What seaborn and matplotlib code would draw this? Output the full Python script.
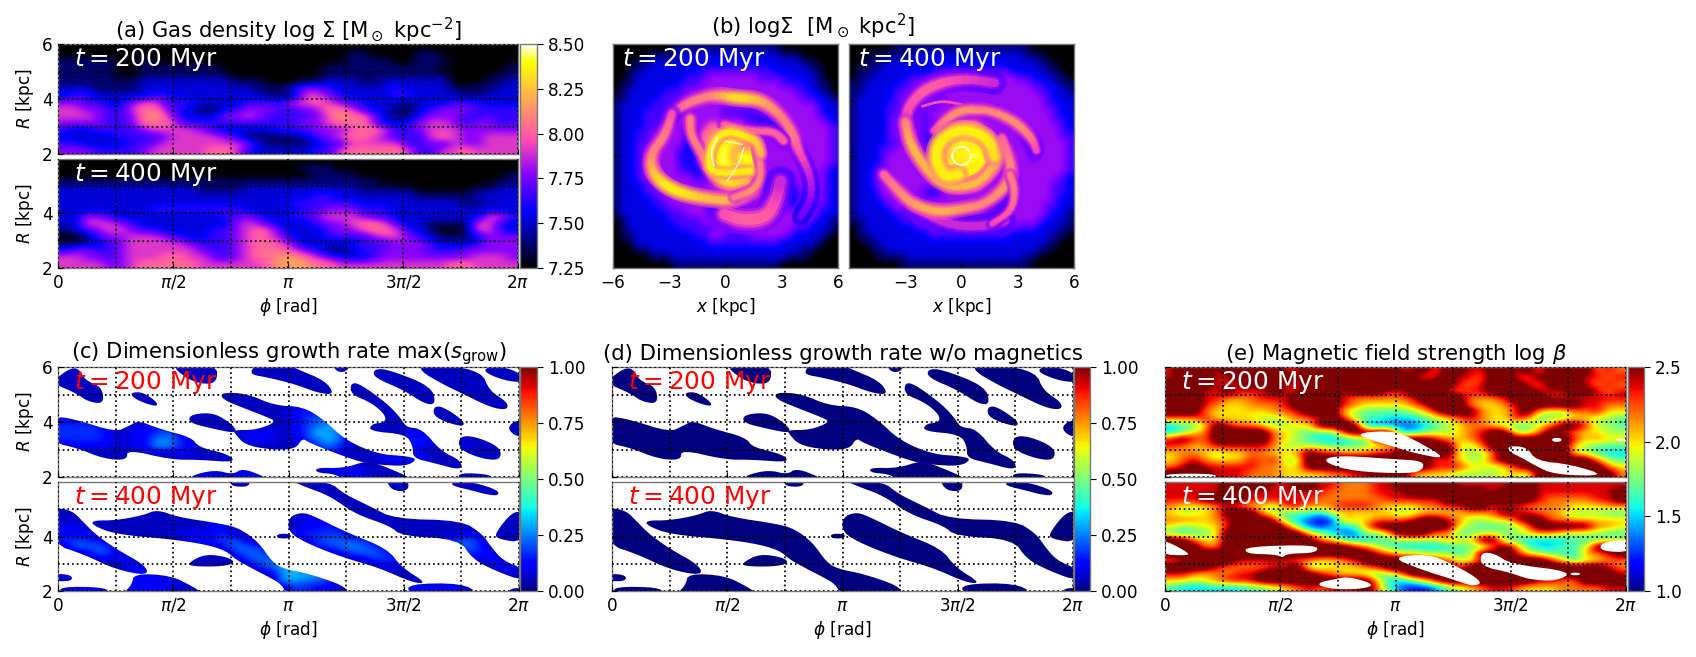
import numpy as np
import matplotlib
matplotlib.use("Agg")
import matplotlib.pyplot as plt
from matplotlib.cm import ScalarMappable
from matplotlib.collections import LineCollection
from matplotlib.colors import Normalize
from matplotlib.patches import Polygon
import seaborn as sns

# Digit grids: rows run from the top of a panel to its bottom.
gas_200 = [
 "0000000000000000000000000000000000000000",
 "0000000000000000000000000110000110000000",
 "1111100100000000000000000111100111000000",
 "1111100111111100000000011111111110000001",
 "1111100111111110000000011111111111000011",
 "1111111222222221110001122211222222000112",
 "2221111222222222211134432222232222111122",
 "2332222233222222221115543222233222211222",
 "4433224553332222333355654332221222333222",
 "5544335664321123444334466532211234443333",
 "5554334675322244543333457664211344433333",
 "4444334666433333333334456664223455434433",
 "3223333455554322222333444566533455544444",
 "2222233334555543111112345665433356544555",
 "3322223345555555421111233555553343544555",
 "4443333455555665322222335666665335565555",
]
gas_400 = [
 "0000000000000000000000000000000000000000",
 "0000000000000000000001110000000000000000",
 "0000000000000000000000111100000000000001",
 "1111111111111111111111111111000000000011",
 "2222222222221111222222222211111000001122",
 "2222222222222222222222332222222111112222",
 "2222222222222222222233333322222222211222",
 "2222222233333333222223344433322222222222",
 "2244322222222233432233455543322222222553",
 "2255543222222224543222344566532211115532",
 "1234554332222334565322234456653210015532",
 "0013445554322334565422233334554321112444",
 "1122345555543334566542222233344432223444",
 "3443345555554334566654311233444433344444",
 "5544345556655434566776543223444444445554",
 "5555445666665555556777665555555555665555",
]
disk_200 = [
 "0000000011111111111111100000000",
 "0000011112222222222222211100000",
 "0001122222222222222222222211000",
 "0011222222223333333333222221100",
 "0012222222333444444433332222100",
 "0112222223334444444444433322110",
 "0122222333444555666655544332210",
 "1122223334455667888766555433221",
 "1222233344566676655677665544322",
 "1222333344656653333345666554322",
 "1222333445456654443323456654432",
 "1222334456345664666543234666443",
 "1223344566236667888755324566543",
 "1223345665236678885887533566543",
 "1223456653236789766888754566543",
 "1223467652326789699887665665443",
 "1223467643236889778898765555443",
 "1223478743323688888987654455432",
 "1223467875433468889876543455432",
 "1222346788764457888765443455432",
 "1222334678887776787765432355432",
 "1222233456778887777665432345432",
 "1222223344454322566666543344332",
 "1222222333444333345666665444322",
 "0122222233334443345666765443221",
 "0122222223333344455667654332221",
 "0112222222233443333454443222210",
 "0012222222222333333333322222100",
 "0001122222222222222222222211000",
 "0000011122222222222222221110000",
 "0000000011111111111111100000000",
]
disk_400 = [
 "0000001111111111111111111000000",
 "0001111112222222222222221110000",
 "0011122222222222222222222211000",
 "0111222222223333333333222221100",
 "0112222233344444455544433222110",
 "1122222334455566666555444332211",
 "1122223345566544444455554433221",
 "1222223456543455554444445543222",
 "1222233465434455666666654443322",
 "1222233565344566777777666544322",
 "1222234564344566777776667654332",
 "1222234564343567888776546765432",
 "1222234565334678888876443675433",
 "1222233665335788888887653265443",
 "1222334775436788888887764254443",
 "1222344677536788898888764344443",
 "1222344678656888888887765445443",
 "1223455677778888888877654655443",
 "1223566567777788888776545765432",
 "1223566654566777777654345754332",
 "1222456665323566665543345654332",
 "1222345677654456666543346654322",
 "1222234567777766554333456643322",
 "1222223345666776554445566543221",
 "1122222334445555555555554432221",
 "0122222223344445555554433322211",
 "0112222222233333333333222222110",
 "0011222222222222222222222221100",
 "0001122222222222222222222211000",
 "0000111122222222222222221100000",
 "0000000111111111111111111000000",
]
# Spiral arms in panel (b): x, y [kpc], level, width [kpc]
arms_200 = [
 ([-0.09,0.98,2.22,2.75,2.93], [-3.11,-3.46,-3.29,-2.22,-1.33], [5,5.5,5.5,5,4.5], 0.7),
 ([-2.84,-1.87,-0.62,0.62,1.87,2.93,3.64,3.82,4.53,4.62,4.0], [2.31,2.93,3.29,3.11,3.02,2.22,1.15,0.44,-0.98,-2.22,-3.29], [5,6,6,8,7,6,6,5.5,4.5,4,3.5], 0.42),
 ([-2.84,-3.2,-4.0,-3.91,-3.2,-2.22,-0.8,0.44,1.51], [2.31,1.15,0.09,-0.89,-1.6,-2.04,-2.31,-2.4,-1.86], [5,6,6,7,8,8,7,7,6], 0.42),
 ([-1.87,-1.87,-1.24,-0.8,0.09,1.15], [2.04,1.15,0.09,-0.98,-1.51,-1.33], [6,6,6,6,8,7], 0.36),
 ([-0.09,1.33,2.58,3.11], [1.69,1.33,1.33,0.8], [5.5,5.5,5.5,5.5], 0.36),
 ([0.44,1.51,1.95,1.69], [-2.22,-1.86,-0.98,0.44], [6,6.5,6,6], 0.32),
 ([1.33,-0.8,-0.89,-0.44,0.27,0.98,1.69,1.87], [-0.8,-0.98,0.09,1.07,1.33,1.07,0.8,0.09], [8,8,8,8,8,8,7.5,7], 0.34),
 ([-0.44,-0.8,-0.62], [0.98,0.27,-0.53], [9,9,9], 0.1),
 ([0.98,0.71,0.09], [0.44,-0.44,-1.33], [9,9,9], 0.08),
 ([0.0,0.89], [0.8,0.62], [9,9], 0.07),
]
arms_400 = [
 ([-2.65,-0.87,0.91,2.33], [-2.58,-3.64,-3.82,-3.46], [5,4.5,4.5,4.5], 0.55),
 ([-3.0,-2.82,-1.76,0.02,1.79], [1.69,2.75,3.73,4.17,3.91], [5,5,5.5,5,4.5], 0.55),
 ([-2.11,-1.05,0.02], [2.66,2.97,2.75], [5,5.5,5], 0.18),
 ([-1.49,-0.87,0.02,1.44,2.86,3.75,4.01], [1.33,1.95,2.49,2.49,1.86,0.98,0.27], [5,6,6.5,6,6.5,6,5], 0.36),
 ([-4.16,-3.53,-2.65,-1.23,0.02,1.26,2.33,2.68,2.5,2.15], [-0.98,-1.69,-2.58,-3.02,-2.84,-2.58,-1.69,-0.98,0.09,0.98], [5.5,6,6.5,7,6.5,6,6.5,6.5,6,5.5], 0.4),
 ([2.59,2.86,2.68,1.62], [-0.98,-1.86,-2.93,-3.64], [6,6,5.5,5], 0.32),
 ([-3.0,-2.74,-1.94,-1.05,0.02,1.08,1.79], [1.86,0.62,-0.62,-1.51,-1.69,-1.33,-0.44], [6,7,7,7,7,7,7], 0.4),
 ([1.79,1.44,0.0,-1.23,-1.4,-0.87,-0.16], [-0.09,0.98,1.51,0.8,-0.27,-1.15,-0.98], [7.5,8,8,8,8,8,8], 0.5),
 ([-0.53,-0.37,0,0.37,0.53,0.37,0,-0.37,-0.53], [0,0.37,0.53,0.37,0,-0.37,-0.53,-0.37,0], [9,9,9,9,9,9,9,9,9], 0.1),
]

# Growth-rate colour grids, '1' = the navy floor
growth_200 = [
 "1111111111111111111111111111111111111111",
 "1111111111111111111111111111111111111111",
 "1111111111111111111111111111111111111111",
 "1111111111111111111111111111111111111111",
 "1111111111111111111111111111111111111111",
 "1111111111111111111111111111111111111111",
 "1111111111111111111123211111111111111111",
 "2221111111111111111123443211111111111111",
 "3333111222111111111123456211111111111111",
 "3333212234211111222123654111112211111111",
 "3333212245321111222113464111112321111111",
 "1222212255321111111112343111123212221111",
 "1111111111221111111111232111222211111111",
 "1111111111111111111111112111222211111111",
 "1111111111111111111111122211111111111111",
 "1111111111112212221111112221111111111111",
]
growth_400 = [
 "1111111111111111111111111111111111111111",
 "1111111111111111111111111111111111111111",
 "1111111111111111111111111111111111111111",
 "1111111111111111111111111111111111111111",
 "1111111111111111111111111111111111111111",
 "1111111111111111111112221111111111111111",
 "2211111111111221111112232221111111111111",
 "2221111111222231111123333221111111121111",
 "3332111111122334111122344332111112343111",
 "1444311111111134431111334543211112443111",
 "1114321111111113443111112344321111133211",
 "1111122111111111344511111113332111111221",
 "1111112211111111134561111111211111111122",
 "2111112221111111111566543111111111111111",
 "1111112222211111111554432111111111111111",
 "1222112222111111111133221111112222211111",
]
# Outlines of the unstable regions: (phi / pi, R [kpc])
bands_200 = [
 [(-.02,5.5),(.05,5.95),(.09,5.95),(.12,5.5),(.19,5.28),(.2,4.66),(.13,4.74),(.08,5.04),(-.02,5.4)],
 [(.49,6.1),(.69,6.1),(.69,5.42),(.62,5.38),(.55,5.62)],
 [(.84,5.9),(.86,6.1),(1.0,6.1),(1.03,5.95),(1.16,5.5),(1.2,5.0),(1.13,5.05),(1.03,5.37),(.91,5.62),(.84,5.72)],
 [(1.19,6.1),(1.27,6.1),(1.25,5.82),(1.21,5.82)],
 [(1.37,5.92),(1.43,5.92),(1.62,5.3),(1.64,4.64),(1.59,4.66),(1.5,5.16),(1.37,5.62)],
 [(1.58,6.1),(1.67,6.1),(1.84,5.82),(1.87,5.15),(1.95,4.72),(1.95,4.44),(1.88,4.52),(1.76,5.01),(1.67,5.37),(1.57,5.86)],
 [(1.86,6.0),(1.94,6.0),(2.02,5.7),(2.02,5.44),(1.94,5.5),(1.85,5.8)],
 [(.32,5.08),(.37,5.08),(.43,4.72),(.43,4.56),(.37,4.7),(.32,4.92)],
 [(.71,5.08),(.82,5.03),(.94,4.6),(1.06,4.56),(1.15,4.11),(1.25,3.32),(1.39,2.83),(1.51,2.76),(1.56,2.65),(1.51,2.39),(1.39,2.45),(1.33,2.51),(1.24,2.75),(1.09,3.24),(1.06,3.42),(1.03,3.0),(.91,3.0),(.81,3.18),(.77,3.55),(.76,3.71),(.86,3.71),(.95,4.01),(.9,4.2),(.82,4.46),(.71,4.83)],
 [(.57,4.24),(.64,4.34),(.7,4.24),(.77,3.8),(.77,3.59),(.67,3.76),(.57,3.97)],
 [(-.02,4.21),(.07,4.11),(.25,3.63),(.31,3.87),(.35,4.05),(.44,3.75),(.58,3.44),(.61,3.08),(.74,2.83),(.77,2.53),(.61,2.63),(.49,2.63),(.3,3.0),(.3,2.61),(.2,2.66),(.08,3.06),(-.02,3.24)],
 [(1.27,5.42),(1.31,5.39),(1.43,4.66),(1.49,4.11),(1.51,3.81),(1.58,3.75),(1.66,2.95),(1.75,2.59),(1.75,2.24),(1.63,2.51),(1.54,2.69),(1.54,3.12),(1.51,3.55),(1.35,3.67),(1.36,3.93),(1.42,3.99),(1.42,4.26),(1.36,4.7),(1.27,5.01)],
 [(1.63,4.56),(1.67,4.56),(1.76,4.05),(1.76,3.83),(1.69,3.97),(1.63,4.22)],
 [(1.95,3.78),(1.98,4.04),(2.02,4.04),(2.02,3.46),(1.98,3.51)],
 [(1.74,3.48),(1.81,3.48),(1.92,3.08),(1.92,2.61),(1.84,2.66),(1.74,3.0)],
 [(.58,2.06),(.68,2.26),(.76,2.09),(.8,2.32),(.9,2.0),(.9,1.9),(.58,1.9)],
 [(1.12,2.34),(1.24,2.32),(1.34,2.59),(1.39,2.47),(1.52,2.02),(1.52,1.9),(1.24,1.9),(1.2,2.11),(1.12,2.16)],
 [(1.74,2.16),(1.88,2.09),(1.88,1.9),(1.74,1.9)],
]
bands_400 = [
 [(.75,6.1),(.83,6.1),(.83,5.82),(.75,5.84)],
 [(1.0,6.1),(1.18,6.0),(1.24,5.57),(1.36,5.08),(1.46,4.65),(1.75,4.59),(1.84,4.1),(1.88,3.61),(1.93,3.12),(2.02,2.81),(2.02,2.36),(1.9,2.73),(1.8,3.16),(1.74,3.9),(1.49,4.02),(1.44,4.39),(1.29,4.82),(1.18,5.49),(1.06,5.86)],
 [(1.42,6.1),(1.52,6.1),(1.52,5.66),(1.45,5.68)],
 [(1.71,6.0),(1.8,6.0),(1.91,5.7),(1.91,5.49),(1.85,5.56),(1.8,5.68),(1.71,5.86)],
 [(-.02,5.06),(.06,4.96),(.11,4.53),(.16,4.1),(.25,3.55),(.38,2.94),(.39,2.56),(.25,2.79),(.11,3.35),(-.02,3.71)],
 [(.33,2.64),(.49,2.57),(.59,2.14),(.63,1.9),(.28,1.9),(.32,2.22)],
 [(.15,4.59),(.25,4.59),(.37,4.78),(.43,4.99),(.52,4.71),(.71,4.47),(.79,4.29),(.87,3.79),(.93,3.06),(.98,2.81),(1.09,2.63),(1.24,2.2),(1.26,1.9),(.99,1.9),(.97,2.24),(.92,2.49),(.85,2.79),(.77,3.16),(.73,3.47),(.64,3.71),(.49,3.9),(.25,4.08),(.15,4.41)],
 [(.57,3.06),(.64,3.36),(.74,3.24),(.77,3.02),(.7,2.89),(.57,2.91)],
 [(1.0,4.71),(1.06,4.9),(1.12,4.71),(1.25,4.16),(1.43,3.55),(1.49,2.87),(1.6,2.29),(1.54,2.3),(1.39,2.86),(1.24,3.22),(1.09,3.71),(1.0,4.14)],
 [(.95,4.1),(1.01,4.1),(1.01,3.93),(.95,3.93)],
 [(1.9,4.16),(1.97,4.9),(2.02,4.9),(2.02,3.76),(1.9,3.92)],
 [(-.02,2.64),(.06,2.59),(.06,2.36),(-.02,2.36)],
 [(.01,2.16),(.2,2.14),(.23,1.9),(.01,1.9)],
 [(1.52,2.26),(1.75,2.29),(1.83,1.9),(1.52,1.9)],
 [(1.96,2.09),(2.02,2.12),(2.02,1.9),(1.96,1.9)],
]
beta_200 = [
 "8999899989889998989988979988998979899787",
 "8999889989989998989999789887998798998878",
 "9999888989889999989998999878999879998787",
 "9998898889889998999889998788999988899878",
 "9998877788899998777778999977789998888888",
 "9998766777899998766667899976678999998877",
 "9997666667789996544445689997668965577866",
 "7778666655677898544333456787668745566554",
 "3446987765566999922222345677654467998554",
 "3467999997654448999933455678995579876655",
 "8987999997654333449999987678999999986766",
 "8767888887555544455679999657999999965444",
 "6776566776679887778899999655799999965433",
 "6787666878559999999999978655899999999754",
 "7898888877669999999999988866568999999976",
 "9999888777666677889997666555566599999997",
]
beta_400 = [
 "8888899998899887778899999888889988888888",
 "8888899888888877778889999999899988888889",
 "8889999888888777777888889998999987777889",
 "7666787665887778887666778899888777766677",
 "6556799965444366666655666677798877655544",
 "7776789998432117667778998755668997766666",
 "6556689999842133479999999654445799999776",
 "4344699999996532254799977445555677655544",
 "9976699999999764334455557669944333344455",
 "9997799999999999875433333444797433445999",
 "9999999999999999998766555459998654437789",
 "7899998888877667899999987658999998645677",
 "9999877778895566678999999799899999999987",
 "8876778899999876654579999999999999999998",
 "6656788899999999996334689999999988779999",
 "4333333445678788897421124567887666777788",
]
# Regions where log beta is off the scale (white): (phi / pi, R [kpc])
holes_200 = [
 [(.85,3.62),(.99,3.68),(1.08,3.37),(1.23,2.63),(1.08,2.87),(.99,3.11),(.85,3.45)],
 [(.7,2.71),(.79,2.77),(.99,2.65),(1.12,2.59),(1.12,2.26),(1.06,2.12),(.82,2.2),(.7,2.5)],
 [(1.49,3.13),(1.57,3.09),(1.61,2.59),(1.76,2.46),(1.92,2.04),(1.69,2.08),(1.6,2.44),(1.55,2.69),(1.49,2.93)],
 [(1.68,3.42),(1.72,3.42),(1.72,3.28),(1.68,3.28)],
 [(.0,2.12),(.22,2.12),(.22,1.95),(.0,1.95)],
 [(1.96,3.39),(2.02,3.39),(2.02,3.31),(1.96,3.31)],
]
holes_400 = [
 [(-.02,3.84),(.02,3.78),(.1,3.41),(.1,3.3),(-.02,3.34)],
 [(.35,3.63),(.66,3.7),(.66,3.4),(.53,3.37),(.51,3.22),(.48,3.34),(.35,3.37)],
 [(.98,3.24),(1.14,3.36),(1.25,2.99),(1.38,2.34),(1.34,2.16),(1.25,2.42),(1.11,2.79)],
 [(1.37,3.42),(1.43,3.38),(1.5,2.99),(1.77,2.71),(1.7,2.36),(1.58,2.42),(1.5,2.67),(1.37,2.91)],
 [(.67,2.32),(.74,2.44),(.8,2.53),(.91,2.24),(.86,2.08),(.74,2.06),(.67,2.18)],
 [(1.89,3.78),(2.02,3.91),(2.02,3.42),(1.89,3.46)],
 [(1.76,2.67),(1.8,2.67),(1.8,2.58),(1.76,2.58)],
]
# log beta shown by each digit of the beta grids (9 runs past the end of the scale)
beta_levels = [1.0, 1.17, 1.33, 1.5, 1.67, 1.83, 2.0, 2.17, 2.38, 2.7]

density_ticks = [7.25, 7.50, 7.75, 8.00, 8.25, 8.50]
growth_ticks = [0.00, 0.25, 0.50, 0.75, 1.00]
beta_ticks = [1.0, 1.5, 2.0, 2.5]
phi_tick_labels = ["0", r"$\pi/2$", r"$\pi$", r"$3\pi/2$", r"$2\pi$"]
x_tick_values = [-6, -3, 0, 3, 6]
titles = [
    r"(a) Gas density log $\Sigma$ [M$_\odot$ kpc$^{-2}$]",
    r"(b) log$\Sigma$  [M$_\odot$ kpc$^{2}$]",
    r"(c) Dimensionless growth rate max($s_{\rm grow}$)",
    "(d) Dimensionless growth rate w/o magnetics",
    r"(e) Magnetic field strength log $\beta$",
]
time_labels = [r"$t=200$ Myr", r"$t=400$ Myr"]

sns.set_theme(style="ticks", rc={
    "font.size": 12, "axes.linewidth": 1.0, "axes.edgecolor": "#777777",
    "xtick.color": "black", "ytick.color": "black", "text.color": "black",
    "axes.labelcolor": "black"})
plt.rcParams["font.family"] = ["DejaVu Sans"]
plt.rcParams["mathtext.fontset"] = "dejavusans"

W, H = 1696, 657
fig = plt.figure(figsize=(W / 100, H / 100), dpi=100, facecolor="white")
gnu = sns.color_palette("gnuplot2", as_cmap=True)
jet = matplotlib.colormaps["jet"].copy()
TWO_PI = 2 * np.pi
FS_LABEL, FS_TITLE, FS_TIME = 12.2, 15.2, 17.8
PX_PER_KPC = 225 / 12


def box(x0, x1, y0, y1):
    return fig.add_axes([x0 / W, 1 - y1 / H, (x1 - x0) / W, (y1 - y0) / H])


def to_array(rows):
    width = max(len(r) for r in rows)
    rows = [r.ljust(width, r[-1])[:width] for r in rows]
    return np.array([[float(c) for c in r] for r in rows])


def show(ax, data, cmap, vmin, vmax, extent):
    return ax.imshow(data, cmap=cmap, vmin=vmin, vmax=vmax, extent=extent, aspect="auto",
                     interpolation="bicubic", interpolation_stage="data", origin="upper", zorder=0)


def round_corners(pts, closed):
    for _ in range(2):
        a = pts
        b = np.roll(pts, -1, axis=0) if closed else pts[1:]
        a = a if closed else pts[:-1]
        q = 0.75 * a + 0.25 * b
        r = 0.25 * a + 0.75 * b
        mid = np.empty((2 * len(a), pts.shape[1]))
        mid[0::2], mid[1::2] = q, r
        pts = mid if closed else np.vstack([pts[:1], mid, pts[-1:]])
    return pts


def outline(points):
    pts = np.array(points, dtype=float)
    pts[:, 0] *= np.pi
    return round_corners(pts, True)


def finish_phi(ax, bottom, top, color):
    ax.set_xlim(0, TWO_PI)
    ax.set_ylim(2, 6)
    ax.set_xticks(np.arange(0, 4.5) * np.pi / 2)
    ax.set_xticks(np.array([1, 3, 5, 7]) * np.pi / 4, minor=True)
    ax.set_yticks([2, 4, 6] if top else [2, 4])
    ax.set_yticks([3, 5], minor=True)
    ax.grid(which="both", color="black", linestyle=(0, (1, 1.7)), linewidth=1.25)
    ax.set_axisbelow(False)
    ax.tick_params(which="both", direction="in", length=3.5, width=0.8, labelsize=FS_LABEL, pad=4)
    ax.tick_params(which="minor", length=0)
    ax.set_ylabel(r"$R$ [kpc]", fontsize=FS_LABEL, labelpad=4)
    if bottom:
        ax.set_xticklabels(phi_tick_labels)
        ax.set_xlabel(r"$\phi$ [rad]", fontsize=FS_LABEL, labelpad=3)
    else:
        ax.set_xticklabels([])
    for s in ax.spines.values():
        s.set_visible(True)
    ax.text(0.035, 0.86, time_labels[0 if top else 1], color=color, fontsize=FS_TIME,
            transform=ax.transAxes, va="center", ha="left", zorder=5)


def colorbar(mappable, x0, x1, y0, y1, ticks, fmt):
    cax = box(x0, x1, y0, y1)
    cb = fig.colorbar(mappable, cax=cax)
    cb.set_ticks(ticks)
    cb.set_ticklabels([fmt % t for t in ticks])
    cax.tick_params(direction="out", length=4, width=0.8, labelsize=FS_LABEL, pad=4, right=True)
    cb.outline.set_edgecolor("#777777")
    return cb


def draw_arm(ax, xs, ys, levels, width):
    raw = np.column_stack([xs, ys, levels]).astype(float)
    pts = round_corners(raw, False)
    segments = np.stack([pts[:-1, :2], pts[1:, :2]], axis=1)
    mid = (pts[:-1, 2] + pts[1:, 2]) / 2
    lw = width * PX_PER_KPC * 0.72
    norm = Normalize(0, 9)
    soft = [(2.3, 1.6, 0.3), (1.7, 1.1, 0.35), (1.25, 0.5, 0.5), (0.8, 0.0, 0.9)]
    if width < 0.2:
        soft = soft[-1:]
    for grow, drop, alpha in soft:
        layer = LineCollection(segments, cmap=gnu, norm=norm, linewidths=lw * grow, alpha=alpha,
                               capstyle="round", joinstyle="round", zorder=1)
        layer.set_array(np.clip(mid - drop, 0, 9))
        ax.add_collection(layer)


extent_phi = (0, TWO_PI * 0.998, 2, 6)
extent_xy = (-6, 6, -6, 6)

# (a)
ax = box(58, 518, 44, 154)
im_a = show(ax, 7.25 + 1.25 * 0.95 * to_array(gas_200) / 9, gnu, 7.25, 8.5, extent_phi)
finish_phi(ax, False, True, "white")
ax.set_title(titles[0], fontsize=FS_TITLE, pad=5)
ax = box(58, 518, 159, 268)
show(ax, 7.25 + 1.25 * 0.95 * to_array(gas_400) / 9, gnu, 7.25, 8.5, extent_phi)
finish_phi(ax, True, False, "white")
colorbar(im_a, 520, 537, 44, 268, density_ticks, "%.2f")

# (b)
for grid, arms, (x0, x1), label, left in zip([disk_200, disk_400], [arms_200, arms_400],
                                             [(613, 838), (849, 1074)], time_labels, [True, False]):
    ax = box(x0, x1, 44, 268)
    d = to_array(grid)
    yy, xx = np.mgrid[6:-6:31j, -6:6:31j]
    d = np.where(np.hypot(xx, yy) > 1.9, np.minimum(d, 4.0), d)
    show(ax, 7.25 + 1.25 * d / 9, gnu, 7.25, 8.5, extent_xy)
    for xs, ys, levels, width in arms:
        draw_arm(ax, xs, ys, levels, width)
    ax.set_xlim(-6, 6)
    ax.set_ylim(-6, 6)
    shown = x_tick_values if left else x_tick_values[1:]
    ax.set_xticks(shown)
    ax.set_yticks([-3, 0, 3])
    ax.set_yticklabels([])
    ax.set_xticklabels([str(v).replace("-", "\u2212") for v in shown])
    ax.tick_params(direction="in", length=3.5, width=0.8, labelsize=FS_LABEL, pad=4)
    ax.set_xlabel(r"$x$ [kpc]", fontsize=FS_LABEL, labelpad=3)
    ax.text(0.04, 0.93, label, color="white", fontsize=FS_TIME, transform=ax.transAxes,
            va="center", ha="left", zorder=5)
fig.text(813 / W, 1 - 33 / H, titles[1], fontsize=FS_TITLE, ha="center", va="baseline")

# (c)
for grid, bands, y0, y1, top in [(growth_200, bands_200, 367, 477, True), (growth_400, bands_400, 482, 591, False)]:
    ax = box(58, 519, y0, y1)
    field = to_array(grid) * 0.055
    for band in bands:
        im_c = show(ax, field, jet, 0, 1, extent_phi)
        im_c.set_clip_path(Polygon(outline(band), transform=ax.transData))
    finish_phi(ax, not top, top, "red")
    if top:
        ax.set_title(titles[2], fontsize=FS_TITLE, pad=5)
growth_scale = ScalarMappable(Normalize(0, 1), jet)
colorbar(growth_scale, 520, 537, 367, 591, growth_ticks, "%.2f")

# (d)
for bands, y0, y1, top in [(bands_200, 367, 477, True), (bands_400, 482, 591, False)]:
    ax = box(612, 1073, y0, y1)
    for band in bands:
        pts = outline(band)
        ax.fill(pts[:, 0], pts[:, 1], color=jet(0.0), linewidth=0, zorder=1)
    finish_phi(ax, not top, top, "red")
    ax.set_ylabel("")
    ax.set_yticklabels([])
    if top:
        ax.set_title(titles[3], fontsize=FS_TITLE, pad=5)
colorbar(growth_scale, 1074, 1090, 367, 591, growth_ticks, "%.2f")

# (e)
for grid, holes, y0, y1, top in [(beta_200, holes_200, 367, 477, True), (beta_400, holes_400, 482, 591, False)]:
    ax = box(1165, 1626, y0, y1)
    values = np.array(beta_levels)[to_array(grid).astype(int)]
    im_e = show(ax, values, jet, 1, 2.5, extent_phi)
    for hole in holes:
        pts = outline(hole)
        ax.fill(pts[:, 0], pts[:, 1], color="white", linewidth=0, zorder=1)
    finish_phi(ax, not top, top, "white")
    ax.set_ylabel("")
    ax.set_yticklabels([])
    if top:
        ax.set_title(titles[4], fontsize=FS_TITLE, pad=5)
colorbar(im_e, 1628, 1644, 367, 591, beta_ticks, "%.1f")

fig.savefig("out.png", dpi=100, facecolor="white")
